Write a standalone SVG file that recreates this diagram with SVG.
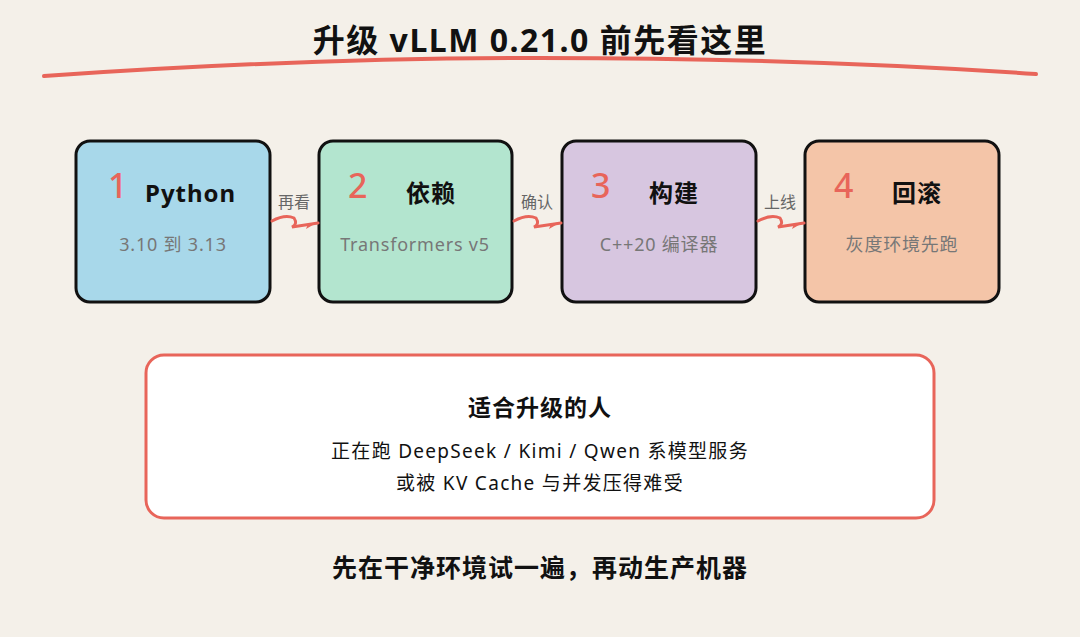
<svg xmlns="http://www.w3.org/2000/svg" width="1080" height="637" viewBox="0 0 1080 637">
<style>
.box{stroke:#111;stroke-width:3}
.num{font-family:"Noto Sans","Noto Sans CJK SC",sans-serif;font-size:34px;fill:#e8655a;font-weight:500}
.ttl{font-family:"Noto Sans","Noto Sans CJK SC",sans-serif;font-size:24px;font-weight:bold;fill:#111;letter-spacing:1px}
.sub{font-family:"Noto Sans","Noto Sans CJK SC",sans-serif;font-size:18px;fill:#777;text-anchor:middle;letter-spacing:0.8px}
.lbl{font-family:"Noto Sans","Noto Sans CJK SC",sans-serif;font-size:16px;fill:#666;text-anchor:middle}
.con{fill:none;stroke:#e8655a;stroke-width:3;stroke-linecap:round}
.txt{font-family:"Noto Sans","Noto Sans CJK SC",sans-serif;fill:#111;text-anchor:middle}
</style>
<rect width="1080" height="637" fill="#f4f0e9"/>
<text x="540" y="52" class="txt" font-size="32" font-weight="bold" letter-spacing="1.5">升级 vLLM 0.21.0 前先看这里</text>
<path d="M44 76 Q300 58 540 58 Q800 58 1036 74" fill="none" stroke="#e8655a" stroke-width="4" stroke-linecap="round"/>
<g id="n1"><rect class="box" x="76" y="141" width="194" height="161" rx="14" fill="#a8d8ea"/><text class="num" x="108" y="198">1</text><text class="ttl" x="145" y="202">Python</text><text class="sub" x="173" y="251">3.10 到 3.13</text></g>
<g id="n2"><rect class="box" x="319" y="141" width="193" height="161" rx="14" fill="#b3e5cf"/><text class="num" x="348" y="198">2</text><text class="ttl" x="406" y="202">依赖</text><text class="sub" x="415" y="251">Transformers v5</text></g>
<g id="n3"><rect class="box" x="562" y="141" width="194" height="161" rx="14" fill="#d7c6e0"/><text class="num" x="591" y="198">3</text><text class="ttl" x="649" y="202">构建</text><text class="sub" x="659" y="251">C++20 编译器</text></g>
<g id="n4"><rect class="box" x="805" y="141" width="194" height="161" rx="14" fill="#f4c5a8"/><text class="num" x="834" y="198">4</text><text class="ttl" x="892" y="202">回滚</text><text class="sub" x="902" y="251">灰度环境先跑</text></g>
<g id="connectors">
<path class="con" d="M272 221 Q285 214 294 218 Q298 224 292 227 L318 223"/><path d="M308 224 L318 222 L306 229 Z" fill="#e8655a"/>
<text class="lbl" x="294" y="208">再看</text>
<path class="con" d="M514 221 Q527 214 536 218 Q540 224 534 227 L561 223"/><path d="M551 224 L561 222 L549 229 Z" fill="#e8655a"/>
<text class="lbl" x="537" y="208">确认</text>
<path class="con" d="M758 221 Q771 214 780 218 Q784 224 778 227 L804 223"/><path d="M794 224 L804 222 L792 229 Z" fill="#e8655a"/>
<text class="lbl" x="780" y="208">上线</text>
</g>
<g id="who"><rect x="146" y="355" width="788" height="163" rx="18" fill="#fff" stroke="#e8655a" stroke-width="3"/>
<text class="txt" x="540" y="416" font-size="23" font-weight="bold" letter-spacing="1">适合升级的人</text>
<text class="txt" x="540" y="458" font-size="19" letter-spacing="1.3">正在跑 DeepSeek / Kimi / Qwen 系模型服务</text>
<text class="txt" x="540" y="490" font-size="19" letter-spacing="1.3">或被 KV Cache 与并发压得难受</text></g>
<text class="txt" x="540" y="577" font-size="25" font-weight="bold" letter-spacing="1">先在干净环境试一遍，再动生产机器</text>
</svg>
